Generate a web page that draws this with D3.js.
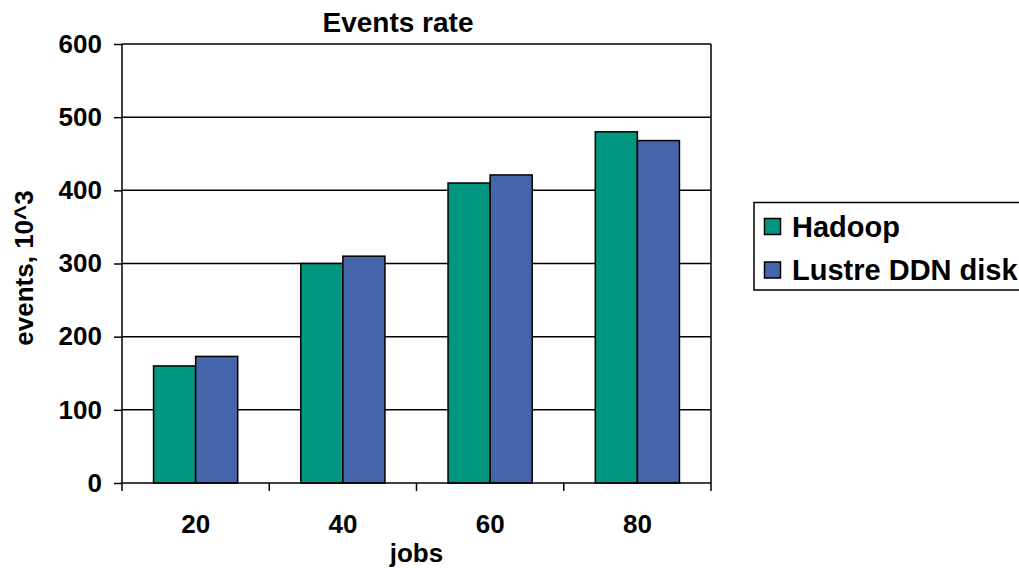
<!DOCTYPE html>
<html><head><meta charset="utf-8">
<script src="https://cdn.jsdelivr.net/npm/d3@7"></script>
<style>body{margin:0;background:#fff;}svg{display:block;font-family:"Liberation Sans",Arial,sans-serif;font-weight:bold;}</style>
</head><body>
<svg id="c" width="1019" height="568"></svg>
<script>
const categories = ["20","40","60","80"];
const seriesNames = ["Hadoop","Lustre DDN disk"];
const hadoop = [160, 300, 410, 480];
const lustre = [173, 310, 421, 468];
const yTicks = [0,100,200,300,400,500,600];
const colors = ["#00967F","#4664AA"];

const svg = d3.select("#c");
const L=122, R=711, T=44, B=483;
const FF = "Liberation Sans, Arial, sans-serif";
const x = d3.scaleBand().domain(categories).range([L,R]).paddingInner(0).paddingOuter(0);
const y = d3.scaleLinear().domain([0,600]).range([B,T]);
const xs = d3.scaleBand().domain(seriesNames).range([0, x.bandwidth()]).paddingInner(0).paddingOuter(0.75);

// gridlines
svg.append("g").selectAll("line").data(yTicks.filter(d=>d>0)).join("line")
  .attr("x1",L).attr("x2",R).attr("y1",d=>y(d)).attr("y2",d=>y(d))
  .attr("stroke","#000").attr("stroke-width",1.5);
// right border
svg.append("line").attr("x1",R).attr("x2",R).attr("y1",T).attr("y2",B).attr("stroke","#000").attr("stroke-width",1.5);

// bars
const data = [hadoop, lustre];
categories.forEach((c,i)=>{
  seriesNames.forEach((s,j)=>{
    svg.append("rect")
      .attr("x", x(c)+xs(s)).attr("width", xs.bandwidth())
      .attr("y", y(data[j][i])).attr("height", y(0)-y(data[j][i]))
      .attr("fill", colors[j]).attr("stroke","#000").attr("stroke-width",1.5);
  });
});

// y axis
const ya = svg.append("g").attr("transform",`translate(${L},0)`)
  .call(d3.axisLeft(y).tickValues(yTicks).tickSize(8).tickPadding(12));
ya.attr("font-size",26).attr("font-family",FF);
ya.select(".domain").attr("stroke","#000").attr("stroke-width",1.5).attr("d",`M0,${T}V${B}`);
ya.selectAll(".tick line").attr("stroke-width",1.5);
ya.selectAll("text").attr("font-size",26).attr("font-weight","bold").attr("fill","#000");

// x axis
const xa = svg.append("g").attr("transform",`translate(0,${B})`)
  .call(d3.axisBottom(x).tickSize(0).tickPadding(32));
xa.attr("font-size",26).attr("font-family",FF);
xa.select(".domain").attr("stroke","#000").attr("stroke-width",1.5).attr("d",`M${L},0H${R}`);
xa.selectAll("text").attr("font-size",26).attr("font-weight","bold").attr("fill","#000");
// category boundary ticks
const bounds = categories.map(c=>x(c)).concat([R]);
svg.append("g").selectAll("line").data(bounds).join("line")
  .attr("x1",d=>d).attr("x2",d=>d).attr("y1",B).attr("y2",B+8)
  .attr("stroke","#000").attr("stroke-width",1.5);

// titles
svg.append("text").attr("x",398).attr("y",32).attr("text-anchor","middle").attr("font-size",28).text("Events rate");
svg.append("text").attr("x",(L+R)/2).attr("y",562).attr("text-anchor","middle").attr("font-size",26).text("jobs");
svg.append("text").attr("transform","translate(33,268) rotate(-90)").attr("text-anchor","middle").attr("font-size",26).text("events, 10^3");

// legend
const lg = svg.append("g");
lg.append("rect").attr("x",754).attr("y",202.5).attr("width",300).attr("height",87.5)
  .attr("fill","#fff").attr("stroke","#000").attr("stroke-width",1.5);
seriesNames.forEach((s,j)=>{
  const cy = 226.5 + j*43.5;
  lg.append("rect").attr("x",764.5).attr("y",cy-8).attr("width",16).attr("height",16)
    .attr("fill",colors[j]).attr("stroke","#000").attr("stroke-width",1.5);
  lg.append("text").attr("x",792).attr("y",cy+10).attr("font-size",29).text(s);
});
</script>
</body></html>
